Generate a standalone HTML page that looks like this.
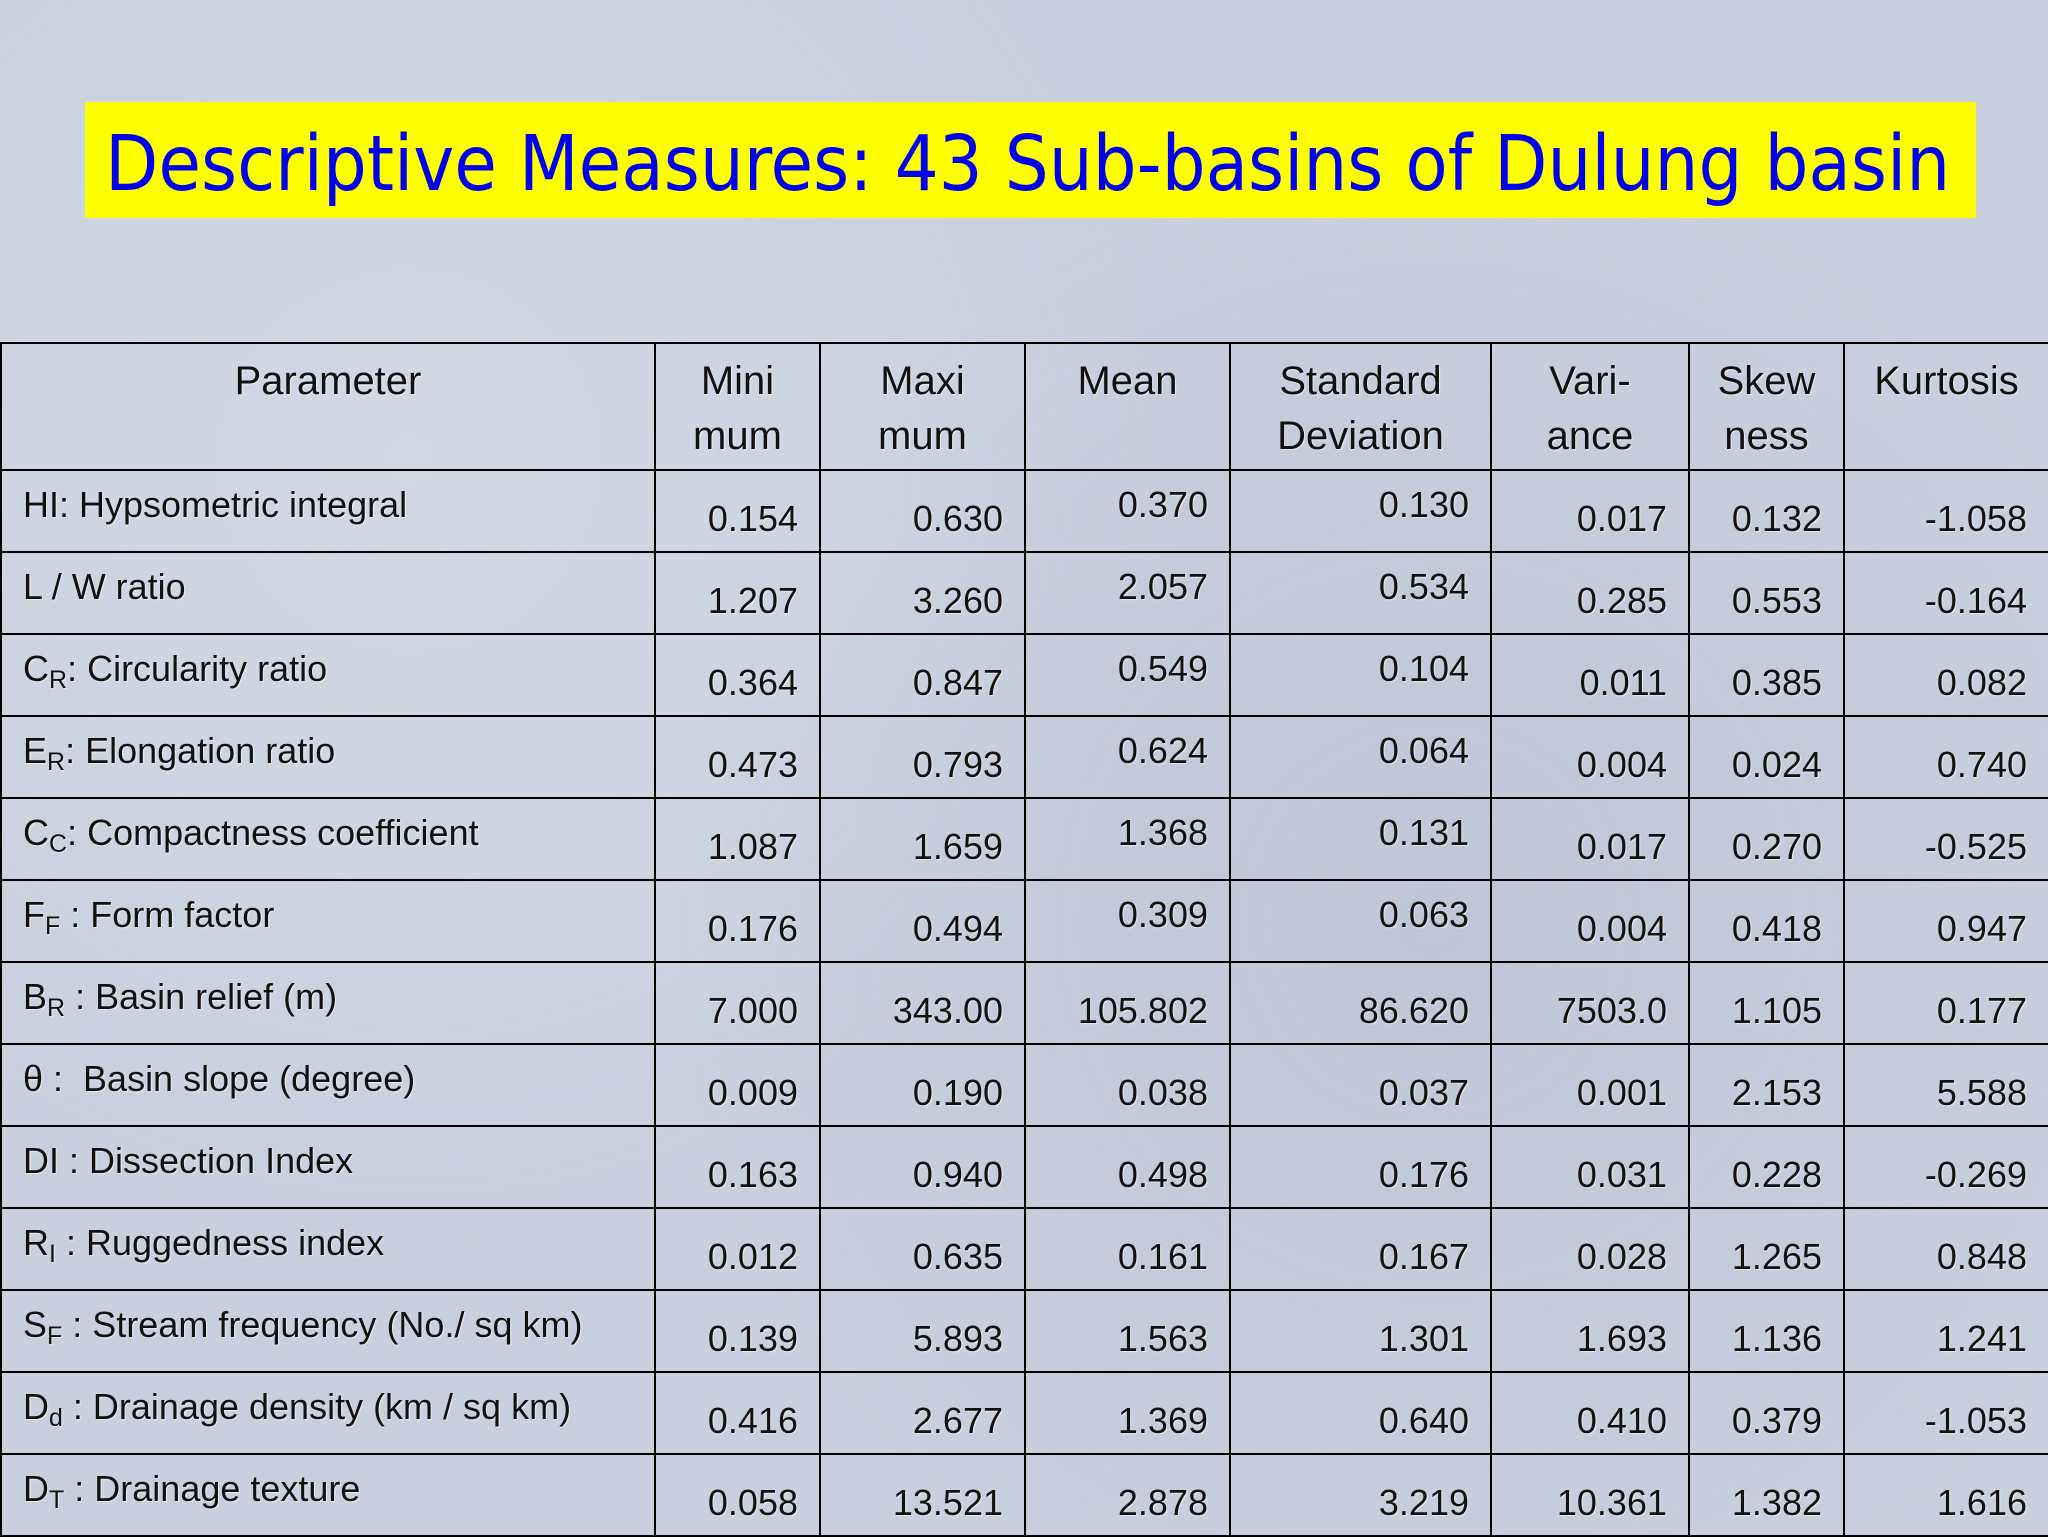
<!DOCTYPE html>
<html><head><meta charset="utf-8">
<style>
html,body{margin:0;padding:0;}
body{width:2048px;height:1536px;overflow:hidden;position:relative;
background:#c8d0df;
background-image:radial-gradient(circle at 20% 30%,rgba(255,255,255,.18),transparent 40%),radial-gradient(circle at 70% 60%,rgba(120,130,160,.12),transparent 45%);
font-family:"Liberation Sans",sans-serif;}
#title{position:absolute;left:85px;top:102px;width:1891px;height:116px;background:#ffff00;}
#title span{position:absolute;left:20px;top:18px;font-family:"DejaVu Sans Condensed","DejaVu Sans",sans-serif;font-size:77px;color:#0000ee;white-space:nowrap;}
table{position:absolute;left:0;top:342px;border-collapse:collapse;table-layout:fixed;width:2048px;}
td,th{border:2.5px solid #000;padding:0;font-weight:normal;color:#111;text-shadow:1px 1px 1px rgba(255,255,255,.6);}
th{height:127px;vertical-align:top;text-align:center;font-size:40px;line-height:55px;padding-top:10px;box-sizing:border-box;}
td{height:82px;vertical-align:top;font-size:36px;line-height:40px;box-sizing:border-box;}
td.l{text-align:left;padding-left:21px;padding-top:14px;}
td.n{text-align:right;padding-right:21px;padding-top:28px;}
td.u{padding-top:14px;}
sub{font-size:25px;vertical-align:-7px;line-height:0;}
</style></head><body>
<div id="title"><span>Descriptive Measures: 43 Sub-basins of Dulung basin</span></div>
<table>
<colgroup><col style="width:654px"><col style="width:165px"><col style="width:205px"><col style="width:205px"><col style="width:261px"><col style="width:198px"><col style="width:155px"><col style="width:205px"></colgroup>
<tr><th>Parameter</th><th>Mini<br>mum</th><th>Maxi<br>mum</th><th>Mean</th><th>Standard<br>Deviation</th><th>Vari-<br>ance</th><th>Skew<br>ness</th><th>Kurtosis</th></tr>
<tr><td class="l">HI: Hypsometric integral</td><td class="n">0.154</td><td class="n">0.630</td><td class="n u">0.370</td><td class="n u">0.130</td><td class="n">0.017</td><td class="n">0.132</td><td class="n">-1.058</td></tr>
<tr><td class="l">L / W ratio</td><td class="n">1.207</td><td class="n">3.260</td><td class="n u">2.057</td><td class="n u">0.534</td><td class="n">0.285</td><td class="n">0.553</td><td class="n">-0.164</td></tr>
<tr><td class="l">C<sub>R</sub>: Circularity ratio</td><td class="n">0.364</td><td class="n">0.847</td><td class="n u">0.549</td><td class="n u">0.104</td><td class="n">0.011</td><td class="n">0.385</td><td class="n">0.082</td></tr>
<tr><td class="l">E<sub>R</sub>: Elongation ratio</td><td class="n">0.473</td><td class="n">0.793</td><td class="n u">0.624</td><td class="n u">0.064</td><td class="n">0.004</td><td class="n">0.024</td><td class="n">0.740</td></tr>
<tr><td class="l">C<sub>C</sub>: Compactness coefficient</td><td class="n">1.087</td><td class="n">1.659</td><td class="n u">1.368</td><td class="n u">0.131</td><td class="n">0.017</td><td class="n">0.270</td><td class="n">-0.525</td></tr>
<tr><td class="l">F<sub>F</sub> : Form factor</td><td class="n">0.176</td><td class="n">0.494</td><td class="n u">0.309</td><td class="n u">0.063</td><td class="n">0.004</td><td class="n">0.418</td><td class="n">0.947</td></tr>
<tr><td class="l">B<sub>R</sub> : Basin relief (m)</td><td class="n">7.000</td><td class="n">343.00</td><td class="n">105.802</td><td class="n">86.620</td><td class="n">7503.0</td><td class="n">1.105</td><td class="n">0.177</td></tr>
<tr><td class="l">θ :&nbsp; Basin slope (degree)</td><td class="n">0.009</td><td class="n">0.190</td><td class="n">0.038</td><td class="n">0.037</td><td class="n">0.001</td><td class="n">2.153</td><td class="n">5.588</td></tr>
<tr><td class="l">DI : Dissection Index</td><td class="n">0.163</td><td class="n">0.940</td><td class="n">0.498</td><td class="n">0.176</td><td class="n">0.031</td><td class="n">0.228</td><td class="n">-0.269</td></tr>
<tr><td class="l">R<sub>I</sub> : Ruggedness index</td><td class="n">0.012</td><td class="n">0.635</td><td class="n">0.161</td><td class="n">0.167</td><td class="n">0.028</td><td class="n">1.265</td><td class="n">0.848</td></tr>
<tr><td class="l">S<sub>F</sub> : Stream frequency (No./ sq km)</td><td class="n">0.139</td><td class="n">5.893</td><td class="n">1.563</td><td class="n">1.301</td><td class="n">1.693</td><td class="n">1.136</td><td class="n">1.241</td></tr>
<tr><td class="l">D<sub>d</sub> : Drainage density (km / sq km)</td><td class="n">0.416</td><td class="n">2.677</td><td class="n">1.369</td><td class="n">0.640</td><td class="n">0.410</td><td class="n">0.379</td><td class="n">-1.053</td></tr>
<tr><td class="l">D<sub>T</sub> : Drainage texture</td><td class="n">0.058</td><td class="n">13.521</td><td class="n">2.878</td><td class="n">3.219</td><td class="n">10.361</td><td class="n">1.382</td><td class="n">1.616</td></tr>
</table>
</body></html>
